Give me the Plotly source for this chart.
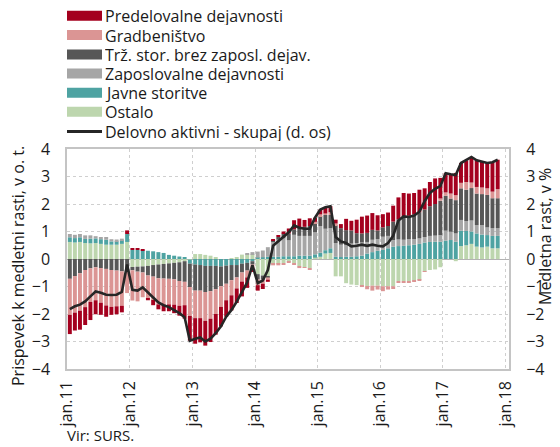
import pandas as pd
import plotly.graph_objects as go

months = pd.date_range("2011-01-01", periods=83, freq="MS")

ostalo = [0.62, 0.60, 0.62, 0.58, 0.57, 0.58, 0.55, 0.52, 0.52, 0.52, 0.55, 0.62,
          -0.29, -0.28, -0.27, -0.25, -0.22, -0.20, -0.18, -0.16, -0.14, -0.12, -0.08, -0.02,
          0.18, 0.18, 0.15, 0.12, 0.05, 0.00, 0.00, 0.02, 0.05, 0.16, 0.18, 0.18,
          -0.55, -0.60, -0.62, -0.18, -0.18, -0.15, -0.10, -0.15, -0.27, -0.30, -0.33, 0.05,
          0.08, 0.20, 0.22, -0.63, -0.63, -0.88, -0.93, -0.95, -0.98, -0.98, -0.97, -0.97,
          -0.99, -0.99, -0.99, -0.80, -0.80, -0.80, -0.78, -0.76, -0.45, -0.40, -0.38, -0.30,
          0.00, 0.00, -0.08, 0.47, 0.50, 0.55, 0.45, 0.42, 0.45, 0.39, 0.39]
javne = [0.17, 0.16, 0.17, 0.15, 0.17, 0.17, 0.17, 0.18, 0.12, 0.12, 0.14, 0.29,
         0.33, 0.33, 0.32, 0.30, 0.28, 0.25, 0.22, 0.15, 0.12, 0.09, 0.05, -0.15,
         -0.20, -0.22, -0.25, -0.25, -0.25, -0.27, -0.24, -0.22, -0.22, -0.17, -0.14, -0.08,
         0.05, 0.06, 0.08, 0.08, 0.08, 0.10, 0.10, 0.10, 0.12, 0.12, 0.12, 0.12,
         0.15, 0.12, 0.17, 0.08, 0.07, 0.08, 0.08, 0.10, 0.12, 0.20, 0.25, 0.30,
         0.33, 0.39, 0.45, 0.47, 0.48, 0.50, 0.52, 0.55, 0.60, 0.62, 0.63, 0.63,
         0.67, 0.69, 0.63, 0.56, 0.52, 0.45, 0.48, 0.47, 0.42, 0.45, 0.45]
zaposl = [0.12, 0.12, 0.12, 0.13, 0.12, 0.08, 0.08, 0.10, 0.08, 0.07, 0.05, 0.00,
          0.00, 0.00, 0.00, 0.00, 0.00, 0.00, 0.00, 0.00, 0.00, 0.00, 0.00, 0.00,
          0.00, 0.00, 0.00, 0.00, 0.00, 0.00, 0.00, 0.00, 0.00, 0.00, 0.02, 0.07,
          0.22, 0.25, 0.35, 0.55, 0.62, 0.65, 0.58, 0.78, 0.72, 0.72, 0.72, 0.80,
          0.97, 0.78, 0.73, 0.50, 0.45, 0.42, 0.48, 0.48, 0.48, 0.42, 0.45, 0.42,
          0.48, 0.45, 0.24, 0.24, 0.22, 0.22, 0.20, 0.20, 0.20, 0.22, 0.22, 0.24,
          0.36, 0.30, 0.30, 0.39, 0.36, 0.40, 0.30, 0.34, 0.28, 0.28, 0.28]
trz = [-0.72, -0.62, -0.52, -0.40, -0.34, -0.30, -0.33, -0.36, -0.40, -0.42, -0.45, -0.45,
       -0.12, -0.18, -0.22, -0.35, -0.42, -0.50, -0.53, -0.56, -0.60, -0.68, -0.75, -0.85,
       -0.95, -0.93, -0.95, -0.92, -0.85, -0.72, -0.66, -0.55, -0.45, -0.32, -0.28, -0.12,
       -0.20, -0.15, -0.05, 0.03, 0.10, 0.18, 0.25, 0.20, 0.30, 0.33, 0.36, 0.33,
       0.36, 0.50, 0.48, 0.65, 0.60, 0.55, 0.48, 0.36, 0.33, 0.33, 0.36, 0.32,
       0.34, 0.36, 0.67, 0.73, 0.85, 0.85, 0.90, 0.95, 1.00, 1.08, 1.15, 1.25,
       1.27, 1.21, 1.21, 1.15, 1.14, 1.18, 1.15, 1.13, 1.18, 1.09, 1.09]
gradb = [-1.31, -1.33, -1.36, -1.35, -1.22, -1.20, -1.26, -1.33, -1.34, -1.30, -1.25, -0.79,
         -1.10, -1.08, -0.90, -0.85, -0.85, -0.95, -0.95, -0.93, -0.92, -0.90, -0.85, -1.05,
         -1.00, -1.00, -1.05, -1.00, -0.90, -0.75, -0.60, -0.55, -0.40, -0.33, -0.25, -0.12,
         -0.20, -0.15, -0.08, -0.05, -0.05, -0.05, -0.04, -0.04, -0.06, -0.02, -0.05, 0.05,
         0.06, 0.06, 0.10, 0.06, 0.00, 0.00, 0.00, 0.00, -0.04, -0.12, -0.18, -0.14,
         -0.18, -0.12, -0.10, -0.04, -0.05, -0.05, -0.04, -0.04, -0.02, 0.00, 0.00, 0.08,
         0.12, 0.18, 0.18, 0.20, 0.28, 0.20, 0.24, 0.24, 0.24, 0.24, 0.33]
predel = [-0.70, -0.65, -0.69, -0.65, -0.66, -0.51, -0.44, -0.41, -0.29, -0.29, -0.24, 0.13,
          0.06, 0.06, 0.04, -0.05, -0.19, -0.18, -0.24, -0.25, -0.31, -0.36, -0.49, -0.90,
          -0.93, -0.88, -0.90, -0.85, -0.75, -0.71, -0.60, -0.55, -0.53, -0.54, -0.38, -0.15,
          -0.20, -0.19, -0.08, 0.05, 0.07, 0.07, 0.18, 0.33, 0.33, 0.25, 0.28, 0.15,
          0.18, 0.22, 0.22, 0.14, 0.15, 0.41, 0.35, 0.49, 0.61, 0.63, 0.61, 0.55,
          0.48, 0.49, 0.58, 0.80, 0.85, 0.81, 0.78, 0.82, 0.77, 0.88, 0.93, 0.75,
          0.70, 0.70, 0.81, 0.72, 0.79, 0.93, 0.97, 0.95, 0.92, 1.07, 1.07]
skupaj = [-1.82, -1.72, -1.66, -1.54, -1.36, -1.18, -1.23, -1.30, -1.31, -1.30, -1.20, -0.20,
          -1.12, -1.15, -1.03, -1.20, -1.40, -1.58, -1.68, -1.75, -1.85, -1.97, -2.12, -2.97,
          -2.90, -2.85, -3.00, -2.90, -2.70, -2.45, -2.10, -1.85, -1.55, -1.20, -0.85, -0.22,
          -0.88, -0.78, -0.40, 0.48, 0.64, 0.80, 0.97, 1.22, 1.14, 1.10, 1.10, 1.50,
          1.80, 1.88, 1.92, 0.80, 0.64, 0.58, 0.46, 0.48, 0.52, 0.48, 0.52, 0.48,
          0.46, 0.58, 0.85, 1.40, 1.55, 1.53, 1.58, 1.72, 2.10, 2.40, 2.55, 2.65,
          3.12, 3.08, 3.05, 3.49, 3.59, 3.71, 3.59, 3.55, 3.49, 3.52, 3.61]

tick_dates = pd.date_range("2011-01-01", periods=8, freq="YS")
tick_text = ["jan.11", "jan.12", "jan.13", "jan.14", "jan.15", "jan.16", "jan.17", "jan.18"]

series = [  # stacking order (from zero outward)
    ("Ostalo", ostalo, "#bdd6ae"),
    ("Javne storitve", javne, "#4ea3a2"),
    ("Zaposlovalne dejavnosti", zaposl, "#a6a6a6"),
    ("Trž. stor. brez zaposl. dejav.", trz, "#575757"),
    ("Gradbeništvo", gradb, "#db9594"),
    ("Predelovalne dejavnosti", predel, "#a4001e"),
]
line_name = "Delovno aktivni - skupaj (d. os)"
line_color = "#262626"

FONT = "Open Sans"
FS = 16
TXT = "#1a1a1a"

# figure geometry (page body margin removed below)
W, H = 560, 447
L, R, T, B = 67, 51, 149, 78
PW, PH = W - L - R, H - T - B


def px(x):
    return (x - L) / PW


def py(y):
    return 1 - (y - T) / PH


fig = go.Figure()
for name, vals, col in series:
    fig.add_trace(go.Bar(x=months, y=vals, name=name, marker_color=col,
                         marker_line_width=0, showlegend=False,
                         xperiod="M1", xperiodalignment="middle"))

fig.add_trace(go.Scatter(x=months, y=skupaj, name=line_name, showlegend=False,
                         mode="lines", line=dict(color=line_color, width=2.6),
                         xperiod="M1", xperiodalignment="middle", yaxis="y2"))

# legend drawn as shapes + labels
shapes, annos = [], []
row_y = [15.7, 35.0, 54.5, 73.5, 92.7, 111.8, 131.5]
legend_items = [(n, c) for n, _, c in reversed(series)]
for (name, col), yy in zip(legend_items, row_y):
    shapes.append(dict(type="rect", xref="paper", yref="paper",
                       x0=px(67), x1=px(102), y0=py(yy + 5), y1=py(yy - 5),
                       fillcolor=col, line=dict(width=0), layer="above"))
    annos.append(dict(text=name, xref="paper", yref="paper", x=px(104), y=py(yy),
                      xanchor="left", yanchor="middle", showarrow=False, borderpad=0,
                      height=19, font=dict(size=FS, color=TXT)))
yy = row_y[-1]
shapes.append(dict(type="line", xref="paper", yref="paper", x0=px(67), x1=px(102),
                   y0=py(yy), y1=py(yy), line=dict(color=line_color, width=3)))
annos.append(dict(text=line_name, xref="paper", yref="paper", x=px(104), y=py(yy),
                  xanchor="left", yanchor="middle", showarrow=False, borderpad=0,
                  height=19, font=dict(size=FS, color=TXT)))

# axis titles and source
annos.append(dict(text="Prispevek k medletni rasti, v o. t.", xref="paper", yref="paper",
                  x=px(18), y=py(266), textangle=-90, xanchor="center", yanchor="middle",
                  showarrow=False, font=dict(size=FS, color=TXT)))
annos.append(dict(text="Medletna rast, v %", xref="paper", yref="paper",
                  x=px(545), y=py(237), textangle=-90, xanchor="center", yanchor="middle",
                  showarrow=False, font=dict(size=FS, color=TXT)))
annos.append(dict(text="Vir: SURS.", xref="paper", yref="paper", x=px(65), y=py(435),
                  xanchor="left", yanchor="middle", showarrow=False,
                  font=dict(size=FS - 1, color=TXT)))

fig.update_layout(
    width=W, height=H,
    margin=dict(l=L, r=R, t=T, b=B, autoexpand=False),
    paper_bgcolor="white", plot_bgcolor="white",
    barmode="relative", bargap=0.22,
    font=dict(family=FONT, size=FS, color=TXT),
    showlegend=False,
    xaxis=dict(type="date", range=["2010-12-31", "2018-01-21"],
               tickvals=tick_dates, ticktext=tick_text, tickangle=-90,
               showgrid=True, gridcolor="#cfcfcf", griddash="dot", gridwidth=1,
               showline=True, linecolor="#c4c4c4", linewidth=1.5, mirror=True,
               ticks="outside", ticklen=4, tickcolor="rgba(0,0,0,0)",
               tickfont=dict(size=FS)),
    yaxis=dict(range=[-4, 4], dtick=1, showgrid=True, gridcolor="#cfcfcf",
               griddash="dot", zeroline=True, zerolinecolor="#b3b3b3", zerolinewidth=1.2,
               showline=True, linecolor="#c4c4c4", linewidth=1.5, mirror=True,
               ticks="outside", ticklen=12, tickcolor="rgba(0,0,0,0)",
               tickfont=dict(size=FS)),
    yaxis2=dict(range=[-4, 4], dtick=1, overlaying="y", side="right", showgrid=False,
                zeroline=False, ticks="outside", ticklen=13, tickcolor="rgba(0,0,0,0)",
                tickfont=dict(size=FS)),
    shapes=shapes,
    annotations=annos,
)

fig.write_html("out.html", config={"displayModeBar": False},
               post_script="document.body.style.margin='0px';")
